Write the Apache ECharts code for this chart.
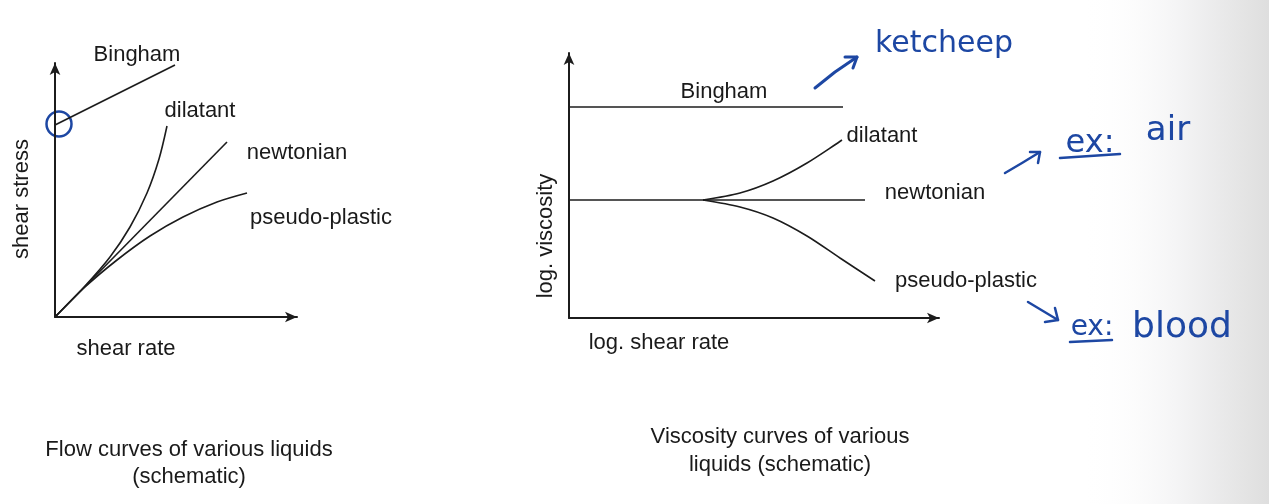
<!DOCTYPE html>
<html lang="en">
  <head>
    <meta charset="UTF-8" />
    <title>Flow and viscosity curves</title>
    <script src="https://cdn.jsdelivr.net/npm/echarts@6.0.0/dist/echarts.min.js"></script>
    <style>
      * {
        padding: 0;
        margin: 0;
      }
      #main {
        width: 1269px;
        height: 504px;
        background-color: #ffffff;
      }
    </style>
  </head>
  <body>
    <div id="main"></div>
    <script>
      // values (arbitrary schematic units)
      // left: shear rate (x) vs shear stress (y)
      var flowBingham = [[0, 192], [120, 252]];
      var flowNewtonian = [[0, 0], [172, 175]];
      var flowDilatant = [[0, 0], [30, 31], [55, 60], [75, 90], [92, 124], [104, 158], [112, 191]];
      var flowPseudo = [[0, 0], [30, 30], [62, 57], [95, 81], [128, 100], [162, 115], [192, 124]];
      // right: log shear rate (x) vs log viscosity (y)
      var viscBingham = [[0, 211], [274, 211]];
      var viscNewtonian = [[0, 118], [296, 118]];
      var viscDilatant = [[134, 118], [171, 125], [204, 137], [238, 155], [273, 178]];
      var viscPseudo = [[134, 118], [171, 111], [204, 100], [238, 82], [271, 60], [306, 37]];

      var lineColor = "#1c1c1c";
      var blue = "#1d47a3";
      var sans = "Liberation Sans, Arial, Helvetica, sans-serif";
      var hand = "DejaVu Sans, sans-serif";

      var myChart = echarts.init(document.getElementById("main"));

      function axis(gridIndex, max) {
        return {
          type: "value",
          gridIndex: gridIndex,
          min: 0,
          max: max,
          axisLine: {
            show: true,
            symbol: ["none", "arrow"],
            symbolSize: [8, 12],
            lineStyle: { color: lineColor, width: 2 },
          },
          axisTick: { show: false },
          axisLabel: { show: false },
          splitLine: { show: false },
        };
      }

      function curve(name, idx, data, smooth) {
        return {
          name: name,
          type: "line",
          xAxisIndex: idx,
          yAxisIndex: idx,
          data: data,
          smooth: smooth,
          symbol: "none",
          silent: true,
          lineStyle: { color: lineColor, width: 1.6 },
        };
      }

      function txt(s, x, y, size, family, color, rot) {
        return {
          type: "text",
          x: x,
          y: y,
          rotation: rot || 0,
          style: {
            text: s,
            fontSize: size,
            fontFamily: family,
            fill: color || "#1a1a1a",
            align: "center",
            verticalAlign: "middle",
          },
        };
      }

      function pen(points, w) {
        return {
          type: "polyline",
          shape: { points: points },
          style: { stroke: blue, lineWidth: w || 2.5, fill: null, lineCap: "round", lineJoin: "round" },
        };
      }

      option = {
        backgroundColor: "#ffffff",
        animation: false,
        grid: [
          { left: 55, top: 63, width: 242, height: 254 },
          { left: 569, top: 53, width: 370, height: 265 },
        ],
        xAxis: [axis(0, 242), axis(1, 370)],
        yAxis: [axis(0, 254), axis(1, 265)],
        series: [
          curve("Bingham", 0, flowBingham, false),
          curve("newtonian", 0, flowNewtonian, false),
          curve("dilatant", 0, flowDilatant, 0.3),
          curve("pseudo-plastic", 0, flowPseudo, 0.3),
          curve("Bingham", 1, viscBingham, false),
          curve("newtonian", 1, viscNewtonian, false),
          curve("dilatant", 1, viscDilatant, 0.3),
          curve("pseudo-plastic", 1, viscPseudo, 0.3),
        ],
      };
      myChart.setOption(option);

      var c = myChart.convertToPixel({ gridIndex: 0 }, flowBingham[0]);

      myChart.setOption({
        graphic: [
          {
            type: "rect",
            z: -10,
            shape: { x: 1080, y: 0, width: 189, height: 504 },
            style: {
              fill: new echarts.graphic.LinearGradient(0, 0, 1, 0, [
                { offset: 0, color: "rgba(255,255,255,0)" },
                { offset: 0.5, color: "#f5f5f6" },
                { offset: 1, color: "#dedede" },
              ]),
            },
          },
          // left chart labels
          txt("Bingham", 137, 55, 22, sans),
          txt("dilatant", 200, 111, 22, sans),
          txt("newtonian", 297, 153, 22, sans),
          txt("pseudo-plastic", 321, 218, 22, sans),
          txt("shear stress", 22, 199, 22, sans, null, Math.PI / 2),
          txt("shear rate", 126, 349, 22, sans),
          // right chart labels
          txt("Bingham", 724, 92, 22, sans),
          txt("dilatant", 882, 136, 22, sans),
          txt("newtonian", 935, 193, 22, sans),
          txt("pseudo-plastic", 966, 281, 22, sans),
          txt("log. viscosity", 546, 236, 22, sans, null, Math.PI / 2),
          txt("log. shear rate", 659, 343, 22, sans),
          // captions
          txt("Flow curves of various liquids", 189, 450, 22, sans),
          txt("(schematic)", 189, 477, 22, sans),
          txt("Viscosity curves of various", 780, 437, 22, sans),
          txt("liquids (schematic)", 780, 465, 22, sans),
          // handwritten notes
          {
            type: "circle",
            shape: { cx: c[0] + 4, cy: c[1] - 1, r: 12.5 },
            style: { stroke: blue, lineWidth: 2.5, fill: null },
          },
          pen([[815, 88], [835, 72], [857, 57]], 3),
          pen([[845, 57], [857, 57], [853, 68]], 3),
          txt("ketcheep", 944, 44, 30, hand, blue),
          pen([[1005, 173], [1022, 163], [1040, 152]]),
          pen([[1030, 152], [1040, 152], [1038, 163]]),
          txt("ex:", 1090, 144, 32, hand, blue),
          pen([[1060, 158], [1120, 154]]),
          txt("air", 1168, 131, 34, hand, blue),
          pen([[1028, 302], [1043, 311], [1058, 320]]),
          pen([[1045, 322], [1058, 320], [1055, 308]]),
          txt("ex:", 1092, 328, 28, hand, blue),
          pen([[1070, 342], [1112, 340]]),
          txt("blood", 1182, 328, 36, hand, blue),
        ],
      });
    </script>
  </body>
</html>
